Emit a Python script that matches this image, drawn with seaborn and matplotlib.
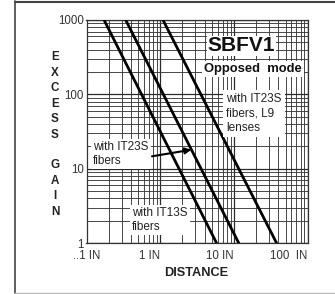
import matplotlib
matplotlib.use("Agg")
import matplotlib.pyplot as plt
import seaborn as sns
import numpy as np
import pandas as pd
from matplotlib.lines import Line2D
from matplotlib.ticker import FixedLocator, LogLocator, NullFormatter

sns.set_theme(style="white")
plt.rcParams['font.family'] = ['Liberation Sans', 'DejaVu Sans']

# Data: each curve = two end points on log-log axes
series = ["with IT13S fibers", "with IT23S fibers", "with IT23S fibers, L9 lenses"]
it13s_distance = [0.173, 5.8]
it13s_gain = [1000, 1]
it23s_distance = [0.34, 11.6]
it23s_gain = [1000, 1]
l9_distance = [1.09, 37.8]
l9_gain = [1000, 1]

x_ticks = [0.1, 1, 10, 100]
x_ticklabels = ["..1 IN", "1 IN", "10 IN", "100  IN"]
y_ticks = [1, 10, 100, 1000]
y_ticklabels = ["1", "10", "100", "1000"]

df = pd.DataFrame({
    "distance": it13s_distance + it23s_distance + l9_distance,
    "gain": it13s_gain + it23s_gain + l9_gain,
    "series": [series[0]] * 2 + [series[1]] * 2 + [series[2]] * 2,
})

fig = plt.figure(figsize=(3.35, 2.94), dpi=100)
ax = fig.add_axes([86.5 / 335, 1 - 243 / 294, (307.7 - 86.5) / 335, (243 - 20) / 294])

sns.lineplot(data=df, x="distance", y="gain", hue="series", units="series",
             estimator=None, palette=["black"] * 3, linewidth=2.0,
             legend=False, ax=ax, zorder=5)
ax.set_xscale("log")
ax.set_yscale("log")
ax.set_xlim(0.1, 100)
ax.set_ylim(1, 1000)

ax.xaxis.set_major_locator(FixedLocator(x_ticks))
ax.yaxis.set_major_locator(FixedLocator(y_ticks))
ax.xaxis.set_minor_locator(LogLocator(base=10, subs=range(2, 10)))
ax.yaxis.set_minor_locator(LogLocator(base=10, subs=range(2, 10)))
ax.xaxis.set_minor_formatter(NullFormatter())
ax.yaxis.set_minor_formatter(NullFormatter())
ax.set_xticklabels(x_ticklabels, fontsize=8.3, color="#333333")
ax.set_yticklabels(y_ticklabels, fontsize=8.3, color="#333333")
for i, lab in enumerate(ax.get_xticklabels()):
    lab.set_ha("center" if i == 0 else "right")
ax.tick_params(axis="both", which="both", length=0, pad=2)
ax.tick_params(axis="x", which="major", pad=5)

ax.grid(True, which="major", color="#2a2a2a", linewidth=0.9)
ax.grid(True, which="minor", color="#3a3a3a", linewidth=0.65)
ax.set_axisbelow(True)
for s in ax.spines.values():
    s.set_color("#333333")
    s.set_linewidth(0.9)

ax.set_xlabel("")
ax.set_ylabel("")

fig.text(196 / 335, 1 - 273 / 294, "DISTANCE", ha="center", va="center",
         fontsize=9.2, fontweight="bold", color="#222222")
fig.text(55 / 335, 1 - 134.5 / 294, "E\nX\nC\nE\nS\nS\n\nG\nA\nI\nN",
         ha="center", va="center", fontsize=8.4, fontweight="bold",
         color="#222222", linespacing=1.38)

ax.text(0.548, 0.885, "SBFV1", transform=ax.transAxes, ha="left", va="center",
        fontsize=15, fontweight="bold", color="#111111",
        bbox=dict(facecolor="white", edgecolor="none", pad=0.5), zorder=6)
ax.text(0.53, 0.78, "Opposed  mode", transform=ax.transAxes, ha="left", va="center",
        fontsize=9.4, fontweight="bold", color="#111111",
        bbox=dict(facecolor="white", edgecolor="none", pad=1.5), zorder=6)
ax.text(0.632, 0.49, "with IT23S\nfibers, L9\nlenses", transform=ax.transAxes,
        ha="left", va="bottom", fontsize=8.5, color="#222222", linespacing=1.25,
        bbox=dict(facecolor="white", edgecolor="none", pad=2.5), zorder=6)

# arrow target: point on the IT23S curve at gain 18 (log-log interpolation)
target_gain = 18
lg = np.log10(it23s_gain[::-1])
ld = np.log10(it23s_distance[::-1])
target_dist = 10 ** np.interp(np.log10(target_gain), lg, ld)
ax.annotate("with IT23S\nfibers", xy=(target_dist, target_gain), xycoords="data",
            xytext=(0.03, 0.40), textcoords="axes fraction",
            ha="left", va="center", fontsize=8.5, color="#222222", linespacing=1.2,
            bbox=dict(facecolor="white", edgecolor="none", pad=1.5),
            arrowprops=dict(arrowstyle="-|>", color="black", lw=1.5,
                            shrinkA=1, shrinkB=0, relpos=(0.56, 0.22),
                            mutation_scale=9),
            zorder=7)
ax.text(0.207, 0.045, "with IT13S\nfibers", transform=ax.transAxes,
        ha="left", va="bottom", fontsize=8.5, color="#222222", linespacing=1.2,
        bbox=dict(facecolor="white", edgecolor="none", pad=1.5), zorder=6)

# outer frame of the datasheet figure
fig.add_artist(Line2D([15 / 335, 15 / 335], [1 - 1 / 294, 1 - 293 / 294],
                      transform=fig.transFigure, color="#444444", lw=1.2))
fig.add_artist(Line2D([15 / 335, 1.0], [1 - 1.5 / 294, 1 - 1.5 / 294],
                      transform=fig.transFigure, color="#444444", lw=1.5))
fig.add_artist(Line2D([15 / 335, 1.0], [1 - 292.5 / 294, 1 - 292.5 / 294],
                      transform=fig.transFigure, color="#bbbbbb", lw=1.0))

fig.savefig("out.png", dpi=100, facecolor="white")
